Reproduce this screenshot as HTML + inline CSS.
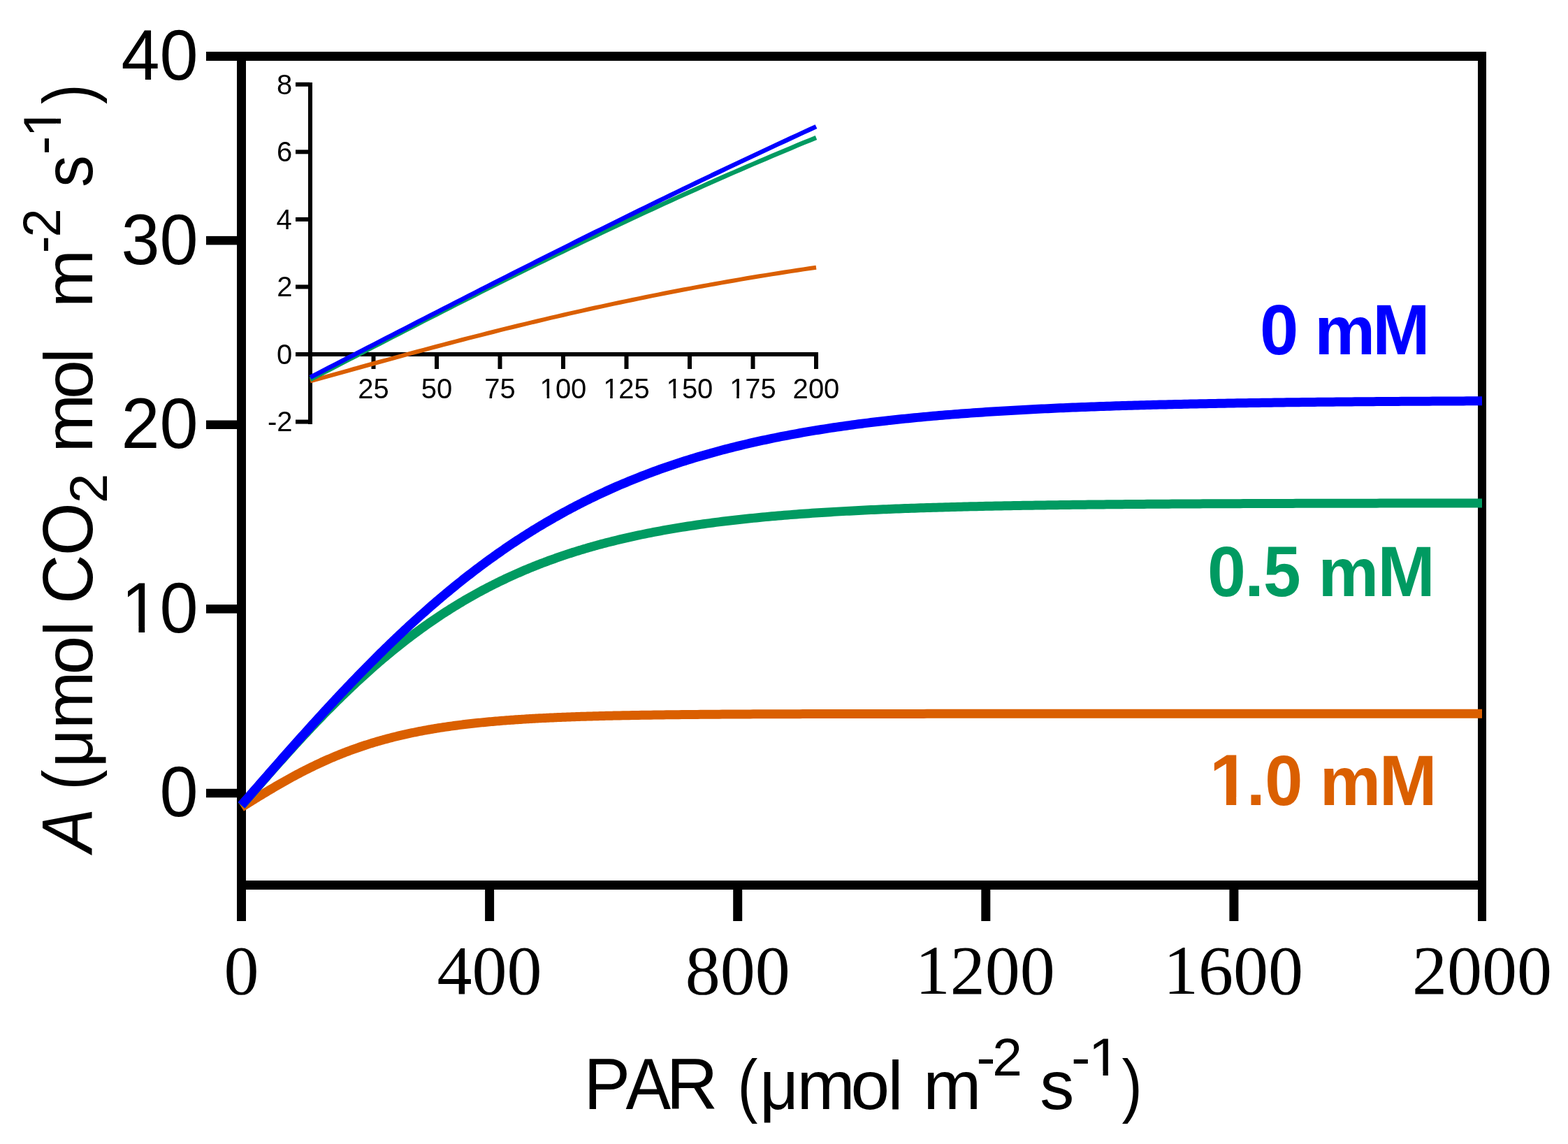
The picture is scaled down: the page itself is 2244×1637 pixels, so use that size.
<!DOCTYPE html>
<html><head><meta charset="utf-8"><title>Light response curves</title><style>
html,body{margin:0;padding:0;background:#fff;overflow:hidden;}
svg{display:block;}
text{white-space:pre;}
</style></head><body>
<svg width="2244" height="1637" viewBox="0 0 2244 1637">
<rect width="100%" height="100%" fill="#fff"/>
<g fill="#000">
<rect x="295" y="74" width="1832" height="13"/>
<rect x="339" y="1260" width="1788" height="13"/>
<rect x="339" y="74" width="13" height="1244"/>
<rect x="2115" y="74" width="12" height="1244"/>
<rect x="295" y="337.88" width="50" height="12.5"/>
<rect x="295" y="601.50" width="50" height="12.5"/>
<rect x="295" y="865.12" width="50" height="12.5"/>
<rect x="295" y="1128.75" width="50" height="12.5"/>
<rect x="694.10" y="1265" width="13" height="53"/>
<rect x="1049.20" y="1265" width="13" height="53"/>
<rect x="1404.30" y="1265" width="13" height="53"/>
<rect x="1759.40" y="1265" width="13" height="53"/>
</g>
<g fill="#000">
<rect x="441" y="118" width="6" height="489"/>
<rect x="423" y="504" width="748" height="6"/>
<rect x="423" y="117.80" width="20" height="6"/>
<rect x="423" y="214.35" width="20" height="6"/>
<rect x="423" y="310.90" width="20" height="6"/>
<rect x="423" y="407.45" width="20" height="6"/>
<rect x="423" y="600.55" width="20" height="6"/>
<rect x="531.50" y="505" width="6" height="23"/>
<rect x="622.00" y="505" width="6" height="23"/>
<rect x="712.50" y="505" width="6" height="23"/>
<rect x="803.00" y="505" width="6" height="23"/>
<rect x="893.50" y="505" width="6" height="23"/>
<rect x="984.00" y="505" width="6" height="23"/>
<rect x="1074.50" y="505" width="6" height="23"/>
<rect x="1165.00" y="505" width="6" height="23"/>
</g>
<path d="M345.50,1155.17 L347.72,1153.79 L349.94,1152.40 L352.16,1151.02 L354.38,1149.64 L356.60,1148.26 L358.82,1146.89 L361.04,1145.51 L363.25,1144.14 L365.47,1142.78 L367.69,1141.41 L369.91,1140.05 L372.13,1138.70 L374.35,1137.35 L376.57,1136.00 L378.79,1134.66 L381.01,1133.32 L383.23,1131.99 L385.45,1130.67 L387.67,1129.35 L389.89,1128.04 L392.11,1126.73 L394.33,1125.43 L396.55,1124.14 L398.76,1122.86 L400.98,1121.58 L403.20,1120.31 L405.42,1119.05 L407.64,1117.80 L409.86,1116.55 L412.08,1115.32 L414.30,1114.09 L416.52,1112.87 L418.74,1111.66 L420.96,1110.46 L423.18,1109.27 L425.40,1108.09 L427.62,1106.92 L429.84,1105.75 L432.06,1104.60 L434.27,1103.46 L436.49,1102.32 L438.71,1101.20 L440.93,1100.09 L443.15,1098.98 L445.37,1097.89 L447.59,1096.81 L449.81,1095.74 L452.03,1094.68 L454.25,1093.62 L456.47,1092.58 L458.69,1091.55 L460.91,1090.53 L463.13,1089.53 L465.35,1088.53 L467.57,1087.54 L469.78,1086.56 L472.00,1085.60 L474.22,1084.64 L476.44,1083.70 L478.66,1082.76 L480.88,1081.84 L483.10,1080.93 L485.32,1080.03 L487.54,1079.13 L489.76,1078.25 L491.98,1077.38 L494.20,1076.52 L496.42,1075.68 L498.64,1074.84 L500.86,1074.01 L503.08,1073.19 L505.29,1072.38 L507.51,1071.59 L509.73,1070.80 L511.95,1070.02 L514.17,1069.26 L516.39,1068.50 L518.61,1067.75 L520.83,1067.02 L523.05,1066.29 L525.27,1065.58 L527.49,1064.87 L529.71,1064.17 L531.93,1063.48 L534.15,1062.81 L536.37,1062.14 L538.59,1061.48 L540.81,1060.83 L543.02,1060.19 L545.24,1059.55 L547.46,1058.93 L549.68,1058.32 L551.90,1057.71 L554.12,1057.12 L556.34,1056.53 L558.56,1055.95 L560.78,1055.38 L563.00,1054.82 L565.22,1054.27 L567.44,1053.72 L569.66,1053.18 L571.88,1052.65 L574.10,1052.13 L576.32,1051.62 L578.53,1051.11 L580.75,1050.62 L582.97,1050.13 L585.19,1049.64 L587.41,1049.17 L589.63,1048.70 L591.85,1048.24 L594.07,1047.79 L596.29,1047.34 L598.51,1046.90 L600.73,1046.47 L602.95,1046.04 L605.17,1045.63 L607.39,1045.21 L609.61,1044.81 L611.83,1044.41 L614.04,1044.02 L616.26,1043.63 L618.48,1043.25 L620.70,1042.88 L622.92,1042.51 L625.14,1042.15 L627.36,1041.79 L629.58,1041.44 L631.80,1041.09 L634.02,1040.76 L636.24,1040.42 L638.46,1040.09 L640.68,1039.77 L642.90,1039.45 L645.12,1039.14 L647.34,1038.83 L649.55,1038.53 L651.77,1038.24 L653.99,1037.94 L656.21,1037.66 L658.43,1037.37 L660.65,1037.10 L662.87,1036.82 L665.09,1036.56 L667.31,1036.29 L669.53,1036.03 L671.75,1035.78 L673.97,1035.53 L676.19,1035.28 L678.41,1035.04 L680.63,1034.80 L682.85,1034.56 L685.06,1034.33 L687.28,1034.11 L689.50,1033.88 L691.72,1033.67 L693.94,1033.45 L696.16,1033.24 L698.38,1033.03 L700.60,1032.83 L702.82,1032.63 L705.04,1032.43 L707.26,1032.24 L709.48,1032.04 L711.70,1031.86 L713.92,1031.67 L716.14,1031.49 L718.36,1031.31 L720.57,1031.14 L722.79,1030.97 L725.01,1030.80 L727.23,1030.63 L729.45,1030.47 L731.67,1030.31 L733.89,1030.15 L736.11,1030.00 L738.33,1029.85 L740.55,1029.70 L742.77,1029.55 L744.99,1029.40 L747.21,1029.26 L749.43,1029.12 L751.65,1028.99 L753.87,1028.85 L756.08,1028.72 L758.30,1028.59 L760.52,1028.46 L762.74,1028.34 L764.96,1028.21 L767.18,1028.09 L769.40,1027.97 L771.62,1027.86 L773.84,1027.74 L776.06,1027.63 L778.28,1027.52 L780.50,1027.41 L782.72,1027.30 L784.94,1027.20 L787.16,1027.09 L789.38,1026.99 L791.59,1026.89 L793.81,1026.79 L796.03,1026.70 L798.25,1026.60 L800.47,1026.51 L802.69,1026.42 L804.91,1026.33 L807.13,1026.24 L809.35,1026.15 L811.57,1026.07 L813.79,1025.99 L816.01,1025.90 L818.23,1025.82 L820.45,1025.74 L822.67,1025.67 L824.88,1025.59 L827.10,1025.51 L829.32,1025.44 L831.54,1025.37 L833.76,1025.30 L835.98,1025.23 L838.20,1025.16 L840.42,1025.09 L842.64,1025.02 L844.86,1024.96 L847.08,1024.89 L849.30,1024.83 L851.52,1024.77 L853.74,1024.71 L855.96,1024.65 L858.18,1024.59 L860.39,1024.53 L862.61,1024.48 L864.83,1024.42 L867.05,1024.36 L869.27,1024.31 L871.49,1024.26 L873.71,1024.21 L875.93,1024.16 L878.15,1024.11 L882.59,1024.01 L887.03,1023.91 L891.47,1023.82 L895.90,1023.74 L900.34,1023.65 L904.78,1023.57 L909.22,1023.49 L913.66,1023.41 L918.10,1023.34 L922.54,1023.27 L926.98,1023.20 L931.41,1023.14 L935.85,1023.07 L940.29,1023.01 L944.73,1022.95 L949.17,1022.89 L953.61,1022.84 L958.05,1022.79 L962.49,1022.73 L966.92,1022.68 L971.36,1022.64 L975.80,1022.59 L980.24,1022.55 L984.68,1022.50 L989.12,1022.46 L993.56,1022.42 L998.00,1022.38 L1002.43,1022.34 L1006.87,1022.31 L1011.31,1022.27 L1015.75,1022.24 L1020.19,1022.21 L1024.63,1022.18 L1029.07,1022.15 L1033.51,1022.12 L1037.95,1022.09 L1042.38,1022.06 L1046.82,1022.03 L1051.26,1022.01 L1055.70,1021.98 L1060.14,1021.96 L1064.58,1021.94 L1069.02,1021.91 L1073.45,1021.89 L1077.89,1021.87 L1082.33,1021.85 L1086.77,1021.83 L1091.21,1021.82 L1095.65,1021.80 L1100.09,1021.78 L1104.53,1021.76 L1108.97,1021.75 L1113.40,1021.73 L1117.84,1021.72 L1122.28,1021.70 L1126.72,1021.69 L1131.16,1021.67 L1135.60,1021.66 L1140.04,1021.65 L1144.47,1021.64 L1148.91,1021.62 L1153.35,1021.61 L1157.79,1021.60 L1162.23,1021.59 L1166.67,1021.58 L1171.11,1021.57 L1175.55,1021.56 L1179.99,1021.55 L1184.42,1021.54 L1188.86,1021.53 L1193.30,1021.53 L1197.74,1021.52 L1202.18,1021.51 L1206.62,1021.50 L1211.06,1021.50 L1215.49,1021.49 L1219.93,1021.48 L1224.37,1021.48 L1228.81,1021.47 L1233.25,1021.46 L1237.69,1021.46 L1242.13,1021.45 L1246.57,1021.45 L1251.01,1021.44 L1255.44,1021.44 L1259.88,1021.43 L1264.32,1021.43 L1268.76,1021.42 L1273.20,1021.42 L1277.64,1021.41 L1282.08,1021.41 L1286.51,1021.40 L1290.95,1021.40 L1295.39,1021.40 L1299.83,1021.39 L1304.27,1021.39 L1308.71,1021.39 L1313.15,1021.38 L1317.59,1021.38 L1322.03,1021.38 L1326.46,1021.37 L1330.90,1021.37 L1335.34,1021.37 L1339.78,1021.36 L1344.22,1021.36 L1348.66,1021.36 L1353.10,1021.36 L1357.53,1021.36 L1361.97,1021.35 L1366.41,1021.35 L1370.85,1021.35 L1375.29,1021.35 L1379.73,1021.34 L1384.17,1021.34 L1388.61,1021.34 L1393.05,1021.34 L1397.48,1021.34 L1401.92,1021.34 L1406.36,1021.33 L1410.80,1021.33 L1415.24,1021.33 L1419.68,1021.33 L1424.12,1021.33 L1428.56,1021.33 L1432.99,1021.33 L1437.43,1021.32 L1441.87,1021.32 L1446.31,1021.32 L1450.75,1021.32 L1455.19,1021.32 L1459.63,1021.32 L1464.07,1021.32 L1468.50,1021.32 L1472.94,1021.32 L1477.38,1021.31 L1481.82,1021.31 L1486.26,1021.31 L1490.70,1021.31 L1495.14,1021.31 L1499.58,1021.31 L1504.01,1021.31 L1508.45,1021.31 L1512.89,1021.31 L1517.33,1021.31 L1521.77,1021.31 L1526.21,1021.31 L1530.65,1021.31 L1535.09,1021.30 L1539.52,1021.30 L1543.96,1021.30 L1548.40,1021.30 L1552.84,1021.30 L1557.28,1021.30 L1561.72,1021.30 L1566.16,1021.30 L1570.60,1021.30 L1575.03,1021.30 L1579.47,1021.30 L1583.91,1021.30 L1588.35,1021.30 L1592.79,1021.30 L1597.23,1021.30 L1601.67,1021.30 L1606.11,1021.30 L1610.54,1021.30 L1614.98,1021.30 L1619.42,1021.30 L1623.86,1021.30 L1628.30,1021.30 L1632.74,1021.30 L1637.18,1021.30 L1641.62,1021.30 L1646.05,1021.29 L1650.49,1021.29 L1654.93,1021.29 L1659.37,1021.29 L1663.81,1021.29 L1668.25,1021.29 L1672.69,1021.29 L1677.12,1021.29 L1681.56,1021.29 L1686.00,1021.29 L1690.44,1021.29 L1694.88,1021.29 L1699.32,1021.29 L1703.76,1021.29 L1708.20,1021.29 L1712.63,1021.29 L1717.07,1021.29 L1721.51,1021.29 L1725.95,1021.29 L1730.39,1021.29 L1734.83,1021.29 L1739.27,1021.29 L1743.71,1021.29 L1748.14,1021.29 L1752.58,1021.29 L1757.02,1021.29 L1761.46,1021.29 L1765.90,1021.29 L1770.34,1021.29 L1774.78,1021.29 L1779.22,1021.29 L1783.65,1021.29 L1788.09,1021.29 L1792.53,1021.29 L1796.97,1021.29 L1801.41,1021.29 L1805.85,1021.29 L1810.29,1021.29 L1814.73,1021.29 L1819.16,1021.29 L1823.60,1021.29 L1828.04,1021.29 L1832.48,1021.29 L1836.92,1021.29 L1841.36,1021.29 L1845.80,1021.29 L1850.24,1021.29 L1854.67,1021.29 L1859.11,1021.29 L1863.55,1021.29 L1867.99,1021.29 L1872.43,1021.29 L1876.87,1021.29 L1881.31,1021.29 L1885.75,1021.29 L1890.18,1021.29 L1894.62,1021.29 L1899.06,1021.29 L1903.50,1021.29 L1907.94,1021.29 L1912.38,1021.29 L1916.82,1021.29 L1921.26,1021.29 L1925.69,1021.29 L1930.13,1021.29 L1934.57,1021.29 L1939.01,1021.29 L1943.45,1021.29 L1947.89,1021.29 L1952.33,1021.29 L1956.77,1021.29 L1961.20,1021.29 L1965.64,1021.29 L1970.08,1021.29 L1974.52,1021.29 L1978.96,1021.29 L1983.40,1021.29 L1987.84,1021.29 L1992.28,1021.29 L1996.71,1021.29 L2001.15,1021.29 L2005.59,1021.29 L2010.03,1021.29 L2014.47,1021.29 L2018.91,1021.29 L2023.35,1021.29 L2027.79,1021.29 L2032.22,1021.29 L2036.66,1021.29 L2041.10,1021.29 L2045.54,1021.29 L2049.98,1021.29 L2054.42,1021.29 L2058.86,1021.29 L2063.30,1021.29 L2067.73,1021.29 L2072.17,1021.29 L2076.61,1021.29 L2081.05,1021.29 L2085.49,1021.29 L2089.93,1021.29 L2094.37,1021.29 L2098.81,1021.29 L2103.24,1021.29 L2107.68,1021.29 L2112.12,1021.29 L2116.56,1021.29 L2121.00,1021.29" fill="none" stroke="#DA5F00" stroke-width="13" stroke-linejoin="round"/>
<path d="M345.50,1152.80 L347.72,1150.25 L349.94,1147.69 L352.16,1145.14 L354.38,1142.59 L356.60,1140.03 L358.82,1137.48 L361.04,1134.93 L363.25,1132.38 L365.47,1129.84 L367.69,1127.29 L369.91,1124.75 L372.13,1122.22 L374.35,1119.68 L376.57,1117.15 L378.79,1114.62 L381.01,1112.09 L383.23,1109.57 L385.45,1107.05 L387.67,1104.54 L389.89,1102.03 L392.11,1099.52 L394.33,1097.02 L396.55,1094.52 L398.76,1092.03 L400.98,1089.54 L403.20,1087.06 L405.42,1084.59 L407.64,1082.12 L409.86,1079.65 L412.08,1077.19 L414.30,1074.74 L416.52,1072.29 L418.74,1069.85 L420.96,1067.42 L423.18,1064.99 L425.40,1062.57 L427.62,1060.16 L429.84,1057.75 L432.06,1055.35 L434.27,1052.96 L436.49,1050.58 L438.71,1048.20 L440.93,1045.83 L443.15,1043.47 L445.37,1041.12 L447.59,1038.77 L449.81,1036.44 L452.03,1034.11 L454.25,1031.79 L456.47,1029.48 L458.69,1027.17 L460.91,1024.88 L463.13,1022.59 L465.35,1020.32 L467.57,1018.05 L469.78,1015.79 L472.00,1013.55 L474.22,1011.31 L476.44,1009.08 L478.66,1006.86 L480.88,1004.65 L483.10,1002.45 L485.32,1000.26 L487.54,998.08 L489.76,995.91 L491.98,993.75 L494.20,991.59 L496.42,989.45 L498.64,987.32 L500.86,985.20 L503.08,983.10 L505.29,981.00 L507.51,978.91 L509.73,976.83 L511.95,974.76 L514.17,972.71 L516.39,970.66 L518.61,968.63 L520.83,966.60 L523.05,964.59 L525.27,962.59 L527.49,960.59 L529.71,958.61 L531.93,956.64 L534.15,954.69 L536.37,952.74 L538.59,950.80 L540.81,948.88 L543.02,946.96 L545.24,945.06 L547.46,943.17 L549.68,941.29 L551.90,939.42 L554.12,937.56 L556.34,935.71 L558.56,933.88 L560.78,932.05 L563.00,930.24 L565.22,928.44 L567.44,926.65 L569.66,924.87 L571.88,923.10 L574.10,921.35 L576.32,919.60 L578.53,917.87 L580.75,916.15 L582.97,914.44 L585.19,912.74 L587.41,911.05 L589.63,909.37 L591.85,907.71 L594.07,906.06 L596.29,904.41 L598.51,902.78 L600.73,901.16 L602.95,899.55 L605.17,897.95 L607.39,896.37 L609.61,894.79 L611.83,893.23 L614.04,891.68 L616.26,890.13 L618.48,888.60 L620.70,887.08 L622.92,885.57 L625.14,884.08 L627.36,882.59 L629.58,881.11 L631.80,879.65 L634.02,878.19 L636.24,876.75 L638.46,875.32 L640.68,873.90 L642.90,872.49 L645.12,871.09 L647.34,869.70 L649.55,868.32 L651.77,866.95 L653.99,865.59 L656.21,864.24 L658.43,862.91 L660.65,861.58 L662.87,860.27 L665.09,858.96 L667.31,857.67 L669.53,856.38 L671.75,855.11 L673.97,853.84 L676.19,852.59 L678.41,851.34 L680.63,850.11 L682.85,848.88 L685.06,847.67 L687.28,846.47 L689.50,845.27 L691.72,844.09 L693.94,842.91 L696.16,841.75 L698.38,840.59 L700.60,839.44 L702.82,838.31 L705.04,837.18 L707.26,836.06 L709.48,834.95 L711.70,833.85 L713.92,832.76 L716.14,831.68 L718.36,830.61 L720.57,829.55 L722.79,828.50 L725.01,827.45 L727.23,826.42 L729.45,825.39 L731.67,824.37 L733.89,823.37 L736.11,822.37 L738.33,821.38 L740.55,820.39 L742.77,819.42 L744.99,818.45 L747.21,817.50 L749.43,816.55 L751.65,815.61 L753.87,814.68 L756.08,813.75 L758.30,812.84 L760.52,811.93 L762.74,811.03 L764.96,810.14 L767.18,809.26 L769.40,808.38 L771.62,807.51 L773.84,806.65 L776.06,805.80 L778.28,804.96 L780.50,804.12 L782.72,803.29 L784.94,802.47 L787.16,801.66 L789.38,800.85 L791.59,800.05 L793.81,799.26 L796.03,798.47 L798.25,797.70 L800.47,796.93 L802.69,796.16 L804.91,795.41 L807.13,794.66 L809.35,793.92 L811.57,793.18 L813.79,792.45 L816.01,791.73 L818.23,791.02 L820.45,790.31 L822.67,789.61 L824.88,788.91 L827.10,788.22 L829.32,787.54 L831.54,786.87 L833.76,786.20 L835.98,785.53 L838.20,784.88 L840.42,784.23 L842.64,783.58 L844.86,782.94 L847.08,782.31 L849.30,781.68 L851.52,781.06 L853.74,780.45 L855.96,779.84 L858.18,779.24 L860.39,778.64 L862.61,778.05 L864.83,777.47 L867.05,776.89 L869.27,776.31 L871.49,775.74 L873.71,775.18 L875.93,774.62 L878.15,774.07 L882.59,772.98 L887.03,771.91 L891.47,770.86 L895.90,769.84 L900.34,768.83 L904.78,767.84 L909.22,766.87 L913.66,765.92 L918.10,764.99 L922.54,764.08 L926.98,763.19 L931.41,762.31 L935.85,761.45 L940.29,760.60 L944.73,759.78 L949.17,758.97 L953.61,758.17 L958.05,757.39 L962.49,756.63 L966.92,755.88 L971.36,755.15 L975.80,754.43 L980.24,753.73 L984.68,753.04 L989.12,752.36 L993.56,751.70 L998.00,751.05 L1002.43,750.41 L1006.87,749.79 L1011.31,749.18 L1015.75,748.58 L1020.19,747.99 L1024.63,747.41 L1029.07,746.85 L1033.51,746.30 L1037.95,745.76 L1042.38,745.23 L1046.82,744.71 L1051.26,744.20 L1055.70,743.70 L1060.14,743.21 L1064.58,742.73 L1069.02,742.26 L1073.45,741.80 L1077.89,741.35 L1082.33,740.91 L1086.77,740.48 L1091.21,740.06 L1095.65,739.64 L1100.09,739.23 L1104.53,738.84 L1108.97,738.45 L1113.40,738.06 L1117.84,737.69 L1122.28,737.32 L1126.72,736.96 L1131.16,736.61 L1135.60,736.27 L1140.04,735.93 L1144.47,735.60 L1148.91,735.28 L1153.35,734.96 L1157.79,734.65 L1162.23,734.34 L1166.67,734.05 L1171.11,733.75 L1175.55,733.47 L1179.99,733.19 L1184.42,732.91 L1188.86,732.64 L1193.30,732.38 L1197.74,732.12 L1202.18,731.87 L1206.62,731.62 L1211.06,731.38 L1215.49,731.14 L1219.93,730.91 L1224.37,730.68 L1228.81,730.46 L1233.25,730.24 L1237.69,730.03 L1242.13,729.82 L1246.57,729.61 L1251.01,729.41 L1255.44,729.21 L1259.88,729.02 L1264.32,728.83 L1268.76,728.65 L1273.20,728.46 L1277.64,728.29 L1282.08,728.11 L1286.51,727.94 L1290.95,727.77 L1295.39,727.61 L1299.83,727.45 L1304.27,727.29 L1308.71,727.14 L1313.15,726.99 L1317.59,726.84 L1322.03,726.70 L1326.46,726.56 L1330.90,726.42 L1335.34,726.28 L1339.78,726.15 L1344.22,726.02 L1348.66,725.89 L1353.10,725.77 L1357.53,725.65 L1361.97,725.53 L1366.41,725.41 L1370.85,725.29 L1375.29,725.18 L1379.73,725.07 L1384.17,724.96 L1388.61,724.86 L1393.05,724.75 L1397.48,724.65 L1401.92,724.55 L1406.36,724.46 L1410.80,724.36 L1415.24,724.27 L1419.68,724.18 L1424.12,724.09 L1428.56,724.00 L1432.99,723.91 L1437.43,723.83 L1441.87,723.75 L1446.31,723.66 L1450.75,723.59 L1455.19,723.51 L1459.63,723.43 L1464.07,723.36 L1468.50,723.28 L1472.94,723.21 L1477.38,723.14 L1481.82,723.08 L1486.26,723.01 L1490.70,722.94 L1495.14,722.88 L1499.58,722.82 L1504.01,722.75 L1508.45,722.69 L1512.89,722.63 L1517.33,722.58 L1521.77,722.52 L1526.21,722.46 L1530.65,722.41 L1535.09,722.36 L1539.52,722.30 L1543.96,722.25 L1548.40,722.20 L1552.84,722.15 L1557.28,722.10 L1561.72,722.06 L1566.16,722.01 L1570.60,721.97 L1575.03,721.92 L1579.47,721.88 L1583.91,721.84 L1588.35,721.79 L1592.79,721.75 L1597.23,721.71 L1601.67,721.67 L1606.11,721.64 L1610.54,721.60 L1614.98,721.56 L1619.42,721.52 L1623.86,721.49 L1628.30,721.45 L1632.74,721.42 L1637.18,721.39 L1641.62,721.36 L1646.05,721.32 L1650.49,721.29 L1654.93,721.26 L1659.37,721.23 L1663.81,721.20 L1668.25,721.17 L1672.69,721.14 L1677.12,721.12 L1681.56,721.09 L1686.00,721.06 L1690.44,721.04 L1694.88,721.01 L1699.32,720.99 L1703.76,720.96 L1708.20,720.94 L1712.63,720.92 L1717.07,720.89 L1721.51,720.87 L1725.95,720.85 L1730.39,720.83 L1734.83,720.81 L1739.27,720.78 L1743.71,720.76 L1748.14,720.74 L1752.58,720.72 L1757.02,720.71 L1761.46,720.69 L1765.90,720.67 L1770.34,720.65 L1774.78,720.63 L1779.22,720.62 L1783.65,720.60 L1788.09,720.58 L1792.53,720.57 L1796.97,720.55 L1801.41,720.53 L1805.85,720.52 L1810.29,720.50 L1814.73,720.49 L1819.16,720.48 L1823.60,720.46 L1828.04,720.45 L1832.48,720.43 L1836.92,720.42 L1841.36,720.41 L1845.80,720.40 L1850.24,720.38 L1854.67,720.37 L1859.11,720.36 L1863.55,720.35 L1867.99,720.34 L1872.43,720.32 L1876.87,720.31 L1881.31,720.30 L1885.75,720.29 L1890.18,720.28 L1894.62,720.27 L1899.06,720.26 L1903.50,720.25 L1907.94,720.24 L1912.38,720.23 L1916.82,720.22 L1921.26,720.22 L1925.69,720.21 L1930.13,720.20 L1934.57,720.19 L1939.01,720.18 L1943.45,720.17 L1947.89,720.16 L1952.33,720.16 L1956.77,720.15 L1961.20,720.14 L1965.64,720.13 L1970.08,720.13 L1974.52,720.12 L1978.96,720.11 L1983.40,720.11 L1987.84,720.10 L1992.28,720.09 L1996.71,720.09 L2001.15,720.08 L2005.59,720.07 L2010.03,720.07 L2014.47,720.06 L2018.91,720.06 L2023.35,720.05 L2027.79,720.05 L2032.22,720.04 L2036.66,720.04 L2041.10,720.03 L2045.54,720.03 L2049.98,720.02 L2054.42,720.02 L2058.86,720.01 L2063.30,720.01 L2067.73,720.00 L2072.17,720.00 L2076.61,719.99 L2081.05,719.99 L2085.49,719.98 L2089.93,719.98 L2094.37,719.98 L2098.81,719.97 L2103.24,719.97 L2107.68,719.96 L2112.12,719.96 L2116.56,719.96 L2121.00,719.95" fill="none" stroke="#009A61" stroke-width="13" stroke-linejoin="round"/>
<path d="M345.50,1152.19 L347.72,1149.64 L349.94,1147.09 L352.16,1144.54 L354.38,1141.99 L356.60,1139.44 L358.82,1136.89 L361.04,1134.34 L363.25,1131.79 L365.47,1129.25 L367.69,1126.70 L369.91,1124.15 L372.13,1121.61 L374.35,1119.07 L376.57,1116.53 L378.79,1113.99 L381.01,1111.45 L383.23,1108.91 L385.45,1106.37 L387.67,1103.84 L389.89,1101.31 L392.11,1098.78 L394.33,1096.25 L396.55,1093.73 L398.76,1091.20 L400.98,1088.68 L403.20,1086.16 L405.42,1083.65 L407.64,1081.13 L409.86,1078.62 L412.08,1076.12 L414.30,1073.61 L416.52,1071.11 L418.74,1068.61 L420.96,1066.11 L423.18,1063.62 L425.40,1061.13 L427.62,1058.65 L429.84,1056.17 L432.06,1053.69 L434.27,1051.21 L436.49,1048.74 L438.71,1046.28 L440.93,1043.81 L443.15,1041.36 L445.37,1038.90 L447.59,1036.45 L449.81,1034.00 L452.03,1031.56 L454.25,1029.13 L456.47,1026.69 L458.69,1024.27 L460.91,1021.84 L463.13,1019.42 L465.35,1017.01 L467.57,1014.60 L469.78,1012.20 L472.00,1009.80 L474.22,1007.41 L476.44,1005.02 L478.66,1002.64 L480.88,1000.26 L483.10,997.89 L485.32,995.52 L487.54,993.16 L489.76,990.81 L491.98,988.46 L494.20,986.12 L496.42,983.78 L498.64,981.45 L500.86,979.13 L503.08,976.81 L505.29,974.50 L507.51,972.19 L509.73,969.89 L511.95,967.60 L514.17,965.31 L516.39,963.03 L518.61,960.76 L520.83,958.49 L523.05,956.23 L525.27,953.97 L527.49,951.73 L529.71,949.49 L531.93,947.25 L534.15,945.03 L536.37,942.81 L538.59,940.59 L540.81,938.39 L543.02,936.19 L545.24,934.00 L547.46,931.82 L549.68,929.64 L551.90,927.47 L554.12,925.31 L556.34,923.16 L558.56,921.01 L560.78,918.87 L563.00,916.74 L565.22,914.62 L567.44,912.50 L569.66,910.39 L571.88,908.29 L574.10,906.20 L576.32,904.12 L578.53,902.04 L580.75,899.97 L582.97,897.91 L585.19,895.85 L587.41,893.81 L589.63,891.77 L591.85,889.74 L594.07,887.72 L596.29,885.71 L598.51,883.70 L600.73,881.71 L602.95,879.72 L605.17,877.74 L607.39,875.77 L609.61,873.80 L611.83,871.85 L614.04,869.90 L616.26,867.96 L618.48,866.03 L620.70,864.11 L622.92,862.20 L625.14,860.29 L627.36,858.40 L629.58,856.51 L631.80,854.63 L634.02,852.76 L636.24,850.89 L638.46,849.04 L640.68,847.19 L642.90,845.36 L645.12,843.53 L647.34,841.71 L649.55,839.90 L651.77,838.09 L653.99,836.30 L656.21,834.51 L658.43,832.74 L660.65,830.97 L662.87,829.21 L665.09,827.46 L667.31,825.72 L669.53,823.98 L671.75,822.26 L673.97,820.54 L676.19,818.83 L678.41,817.13 L680.63,815.44 L682.85,813.76 L685.06,812.09 L687.28,810.42 L689.50,808.77 L691.72,807.12 L693.94,805.48 L696.16,803.85 L698.38,802.23 L700.60,800.61 L702.82,799.01 L705.04,797.41 L707.26,795.83 L709.48,794.25 L711.70,792.68 L713.92,791.11 L716.14,789.56 L718.36,788.02 L720.57,786.48 L722.79,784.95 L725.01,783.43 L727.23,781.92 L729.45,780.42 L731.67,778.93 L733.89,777.44 L736.11,775.97 L738.33,774.50 L740.55,773.04 L742.77,771.59 L744.99,770.14 L747.21,768.71 L749.43,767.28 L751.65,765.86 L753.87,764.45 L756.08,763.05 L758.30,761.66 L760.52,760.27 L762.74,758.90 L764.96,757.53 L767.18,756.17 L769.40,754.82 L771.62,753.47 L773.84,752.14 L776.06,750.81 L778.28,749.49 L780.50,748.18 L782.72,746.87 L784.94,745.58 L787.16,744.29 L789.38,743.01 L791.59,741.74 L793.81,740.47 L796.03,739.22 L798.25,737.97 L800.47,736.73 L802.69,735.49 L804.91,734.27 L807.13,733.05 L809.35,731.84 L811.57,730.64 L813.79,729.45 L816.01,728.26 L818.23,727.08 L820.45,725.91 L822.67,724.75 L824.88,723.59 L827.10,722.44 L829.32,721.30 L831.54,720.17 L833.76,719.04 L835.98,717.92 L838.20,716.81 L840.42,715.70 L842.64,714.61 L844.86,713.52 L847.08,712.44 L849.30,711.36 L851.52,710.29 L853.74,709.23 L855.96,708.18 L858.18,707.13 L860.39,706.09 L862.61,705.06 L864.83,704.03 L867.05,703.01 L869.27,702.00 L871.49,701.00 L873.71,700.00 L875.93,699.01 L878.15,698.02 L882.59,696.07 L887.03,694.15 L891.47,692.25 L895.90,690.39 L900.34,688.54 L904.78,686.72 L909.22,684.93 L913.66,683.17 L918.10,681.42 L922.54,679.71 L926.98,678.01 L931.41,676.35 L935.85,674.70 L940.29,673.08 L944.73,671.48 L949.17,669.91 L953.61,668.36 L958.05,666.83 L962.49,665.32 L966.92,663.84 L971.36,662.37 L975.80,660.93 L980.24,659.51 L984.68,658.11 L989.12,656.74 L993.56,655.38 L998.00,654.04 L1002.43,652.72 L1006.87,651.43 L1011.31,650.15 L1015.75,648.89 L1020.19,647.65 L1024.63,646.43 L1029.07,645.23 L1033.51,644.05 L1037.95,642.88 L1042.38,641.73 L1046.82,640.60 L1051.26,639.49 L1055.70,638.39 L1060.14,637.32 L1064.58,636.25 L1069.02,635.21 L1073.45,634.18 L1077.89,633.17 L1082.33,632.17 L1086.77,631.19 L1091.21,630.22 L1095.65,629.27 L1100.09,628.33 L1104.53,627.41 L1108.97,626.50 L1113.40,625.61 L1117.84,624.73 L1122.28,623.87 L1126.72,623.02 L1131.16,622.18 L1135.60,621.36 L1140.04,620.55 L1144.47,619.75 L1148.91,618.96 L1153.35,618.19 L1157.79,617.43 L1162.23,616.68 L1166.67,615.95 L1171.11,615.22 L1175.55,614.51 L1179.99,613.81 L1184.42,613.12 L1188.86,612.44 L1193.30,611.78 L1197.74,611.12 L1202.18,610.47 L1206.62,609.84 L1211.06,609.21 L1215.49,608.60 L1219.93,607.99 L1224.37,607.40 L1228.81,606.81 L1233.25,606.24 L1237.69,605.67 L1242.13,605.12 L1246.57,604.57 L1251.01,604.03 L1255.44,603.50 L1259.88,602.98 L1264.32,602.47 L1268.76,601.96 L1273.20,601.47 L1277.64,600.98 L1282.08,600.50 L1286.51,600.03 L1290.95,599.57 L1295.39,599.11 L1299.83,598.66 L1304.27,598.22 L1308.71,597.79 L1313.15,597.36 L1317.59,596.94 L1322.03,596.53 L1326.46,596.13 L1330.90,595.73 L1335.34,595.33 L1339.78,594.95 L1344.22,594.57 L1348.66,594.20 L1353.10,593.83 L1357.53,593.47 L1361.97,593.12 L1366.41,592.77 L1370.85,592.43 L1375.29,592.09 L1379.73,591.76 L1384.17,591.43 L1388.61,591.11 L1393.05,590.80 L1397.48,590.49 L1401.92,590.19 L1406.36,589.89 L1410.80,589.59 L1415.24,589.31 L1419.68,589.02 L1424.12,588.74 L1428.56,588.47 L1432.99,588.20 L1437.43,587.93 L1441.87,587.67 L1446.31,587.42 L1450.75,587.16 L1455.19,586.92 L1459.63,586.67 L1464.07,586.43 L1468.50,586.20 L1472.94,585.97 L1477.38,585.74 L1481.82,585.52 L1486.26,585.30 L1490.70,585.08 L1495.14,584.87 L1499.58,584.66 L1504.01,584.45 L1508.45,584.25 L1512.89,584.05 L1517.33,583.86 L1521.77,583.67 L1526.21,583.48 L1530.65,583.30 L1535.09,583.11 L1539.52,582.93 L1543.96,582.76 L1548.40,582.59 L1552.84,582.42 L1557.28,582.25 L1561.72,582.09 L1566.16,581.92 L1570.60,581.77 L1575.03,581.61 L1579.47,581.46 L1583.91,581.31 L1588.35,581.16 L1592.79,581.01 L1597.23,580.87 L1601.67,580.73 L1606.11,580.59 L1610.54,580.46 L1614.98,580.32 L1619.42,580.19 L1623.86,580.06 L1628.30,579.94 L1632.74,579.81 L1637.18,579.69 L1641.62,579.57 L1646.05,579.45 L1650.49,579.34 L1654.93,579.22 L1659.37,579.11 L1663.81,579.00 L1668.25,578.89 L1672.69,578.79 L1677.12,578.68 L1681.56,578.58 L1686.00,578.48 L1690.44,578.38 L1694.88,578.28 L1699.32,578.18 L1703.76,578.09 L1708.20,578.00 L1712.63,577.91 L1717.07,577.82 L1721.51,577.73 L1725.95,577.64 L1730.39,577.56 L1734.83,577.47 L1739.27,577.39 L1743.71,577.31 L1748.14,577.23 L1752.58,577.16 L1757.02,577.08 L1761.46,577.00 L1765.90,576.93 L1770.34,576.86 L1774.78,576.79 L1779.22,576.72 L1783.65,576.65 L1788.09,576.58 L1792.53,576.51 L1796.97,576.45 L1801.41,576.38 L1805.85,576.32 L1810.29,576.26 L1814.73,576.20 L1819.16,576.14 L1823.60,576.08 L1828.04,576.02 L1832.48,575.96 L1836.92,575.91 L1841.36,575.85 L1845.80,575.80 L1850.24,575.75 L1854.67,575.69 L1859.11,575.64 L1863.55,575.59 L1867.99,575.54 L1872.43,575.49 L1876.87,575.45 L1881.31,575.40 L1885.75,575.35 L1890.18,575.31 L1894.62,575.26 L1899.06,575.22 L1903.50,575.18 L1907.94,575.13 L1912.38,575.09 L1916.82,575.05 L1921.26,575.01 L1925.69,574.97 L1930.13,574.93 L1934.57,574.89 L1939.01,574.86 L1943.45,574.82 L1947.89,574.78 L1952.33,574.75 L1956.77,574.71 L1961.20,574.68 L1965.64,574.65 L1970.08,574.61 L1974.52,574.58 L1978.96,574.55 L1983.40,574.52 L1987.84,574.49 L1992.28,574.46 L1996.71,574.43 L2001.15,574.40 L2005.59,574.37 L2010.03,574.34 L2014.47,574.31 L2018.91,574.28 L2023.35,574.26 L2027.79,574.23 L2032.22,574.20 L2036.66,574.18 L2041.10,574.15 L2045.54,574.13 L2049.98,574.11 L2054.42,574.08 L2058.86,574.06 L2063.30,574.04 L2067.73,574.01 L2072.17,573.99 L2076.61,573.97 L2081.05,573.95 L2085.49,573.93 L2089.93,573.91 L2094.37,573.89 L2098.81,573.87 L2103.24,573.85 L2107.68,573.83 L2112.12,573.81 L2116.56,573.79 L2121.00,573.77" fill="none" stroke="#0000FF" stroke-width="13" stroke-linejoin="round"/>
<path d="M444.00,545.44 L453.05,542.90 L462.10,540.37 L471.15,537.84 L480.20,535.31 L489.25,532.79 L498.30,530.27 L507.35,527.75 L516.40,525.24 L525.45,522.74 L534.50,520.24 L543.55,517.75 L552.60,515.27 L561.65,512.80 L570.70,510.33 L579.75,507.87 L588.80,505.43 L597.85,502.99 L606.90,500.57 L615.95,498.15 L625.00,495.75 L634.05,493.36 L643.10,490.98 L652.15,488.62 L661.20,486.26 L670.25,483.93 L679.30,481.60 L688.35,479.30 L697.40,477.00 L706.45,474.72 L715.50,472.46 L724.55,470.21 L733.60,467.98 L742.65,465.77 L751.70,463.57 L760.75,461.39 L769.80,459.22 L778.85,457.07 L787.90,454.95 L796.95,452.83 L806.00,450.74 L815.05,448.66 L824.10,446.61 L833.15,444.57 L842.20,442.55 L851.25,440.55 L860.30,438.57 L869.35,436.60 L878.40,434.66 L887.45,432.73 L896.50,430.83 L905.55,428.94 L914.60,427.08 L923.65,425.23 L932.70,423.40 L941.75,421.59 L950.80,419.80 L959.85,418.03 L968.90,416.28 L977.95,414.55 L987.00,412.84 L996.05,411.15 L1005.10,409.48 L1014.15,407.83 L1023.20,406.20 L1032.25,404.59 L1041.30,402.99 L1050.35,401.42 L1059.40,399.86 L1068.45,398.33 L1077.50,396.81 L1086.55,395.32 L1095.60,393.84 L1104.65,392.38 L1113.70,390.94 L1122.75,389.52 L1131.80,388.11 L1140.85,386.73 L1149.90,385.36 L1158.95,384.01 L1168.00,382.68" fill="none" stroke="#DA5F00" stroke-width="6"/>
<path d="M444.00,543.10 L453.05,538.40 L462.10,533.71 L471.15,529.01 L480.20,524.31 L489.25,519.62 L498.30,514.93 L507.35,510.24 L516.40,505.56 L525.45,500.88 L534.50,496.20 L543.55,491.53 L552.60,486.86 L561.65,482.20 L570.70,477.55 L579.75,472.89 L588.80,468.25 L597.85,463.61 L606.90,458.98 L615.95,454.36 L625.00,449.74 L634.05,445.14 L643.10,440.54 L652.15,435.95 L661.20,431.36 L670.25,426.79 L679.30,422.23 L688.35,417.68 L697.40,413.13 L706.45,408.60 L715.50,404.08 L724.55,399.57 L733.60,395.07 L742.65,390.58 L751.70,386.11 L760.75,381.64 L769.80,377.19 L778.85,372.75 L787.90,368.33 L796.95,363.92 L806.00,359.52 L815.05,355.13 L824.10,350.76 L833.15,346.41 L842.20,342.06 L851.25,337.74 L860.30,333.42 L869.35,329.13 L878.40,324.84 L887.45,320.58 L896.50,316.33 L905.55,312.09 L914.60,307.87 L923.65,303.67 L932.70,299.48 L941.75,295.31 L950.80,291.16 L959.85,287.03 L968.90,282.91 L977.95,278.81 L987.00,274.72 L996.05,270.66 L1005.10,266.61 L1014.15,262.58 L1023.20,258.57 L1032.25,254.57 L1041.30,250.60 L1050.35,246.64 L1059.40,242.70 L1068.45,238.78 L1077.50,234.88 L1086.55,231.00 L1095.60,227.14 L1104.65,223.30 L1113.70,219.47 L1122.75,215.67 L1131.80,211.88 L1140.85,208.12 L1149.90,204.37 L1158.95,200.65 L1168.00,196.94" fill="none" stroke="#009A61" stroke-width="6.5"/>
<path d="M444.00,539.98 L453.05,535.31 L462.10,530.64 L471.15,525.97 L480.20,521.30 L489.25,516.63 L498.30,511.96 L507.35,507.29 L516.40,502.63 L525.45,497.96 L534.50,493.30 L543.55,488.64 L552.60,483.98 L561.65,479.32 L570.70,474.67 L579.75,470.02 L588.80,465.37 L597.85,460.72 L606.90,456.08 L615.95,451.44 L625.00,446.81 L634.05,442.17 L643.10,437.54 L652.15,432.92 L661.20,428.30 L670.25,423.68 L679.30,419.07 L688.35,414.46 L697.40,409.86 L706.45,405.26 L715.50,400.67 L724.55,396.08 L733.60,391.50 L742.65,386.93 L751.70,382.36 L760.75,377.79 L769.80,373.24 L778.85,368.68 L787.90,364.14 L796.95,359.60 L806.00,355.07 L815.05,350.55 L824.10,346.03 L833.15,341.52 L842.20,337.02 L851.25,332.52 L860.30,328.04 L869.35,323.56 L878.40,319.09 L887.45,314.62 L896.50,310.17 L905.55,305.72 L914.60,301.29 L923.65,296.86 L932.70,292.44 L941.75,288.03 L950.80,283.63 L959.85,279.24 L968.90,274.85 L977.95,270.48 L987.00,266.12 L996.05,261.77 L1005.10,257.43 L1014.15,253.09 L1023.20,248.77 L1032.25,244.46 L1041.30,240.16 L1050.35,235.87 L1059.40,231.59 L1068.45,227.32 L1077.50,223.07 L1086.55,218.82 L1095.60,214.58 L1104.65,210.36 L1113.70,206.15 L1122.75,201.95 L1131.80,197.76 L1140.85,193.59 L1149.90,189.42 L1158.95,185.27 L1168.00,181.13" fill="none" stroke="#0000FF" stroke-width="6.5"/>
<g transform="translate(0,113.90) scale(1,1.0250)"><text style="font-family:'Liberation Sans',Arial,Helvetica,sans-serif" fill="#000"><tspan x="173.55" y="0.00" font-size="99.00">4</tspan><tspan x="228.61" y="0.00" font-size="99.00">0</tspan></text></g>
<g transform="translate(0,377.52) scale(1,1.0250)"><text style="font-family:'Liberation Sans',Arial,Helvetica,sans-serif" fill="#000"><tspan x="173.55" y="0.00" font-size="99.00">3</tspan><tspan x="228.61" y="0.00" font-size="99.00">0</tspan></text></g>
<g transform="translate(0,641.15) scale(1,1.0250)"><text style="font-family:'Liberation Sans',Arial,Helvetica,sans-serif" fill="#000"><tspan x="173.55" y="0.00" font-size="99.00">2</tspan><tspan x="228.61" y="0.00" font-size="99.00">0</tspan></text></g>
<g transform="translate(0,904.77) scale(1,1.0250)"><text style="font-family:'Liberation Sans',Arial,Helvetica,sans-serif" fill="#000"><tspan x="173.55" y="0.00" font-size="99.00">1</tspan><tspan x="228.61" y="0.00" font-size="99.00">0</tspan></text><g fill="#fff"><rect x="179.57" y="-8.10" width="18.87" height="10.10"/><rect x="207.19" y="-8.10" width="18.05" height="10.10"/></g></g>
<g transform="translate(0,1168.40) scale(1,1.0250)"><text style="font-family:'Liberation Sans',Arial,Helvetica,sans-serif" fill="#000"><tspan x="228.61" y="0.00" font-size="99.00">0</tspan></text></g>
<text x="345.5" y="1421.5" text-anchor="middle" style="font-family:'Liberation Serif','Times New Roman',Times,serif;font-size:100px">0</text>
<text x="700.6" y="1421.5" text-anchor="middle" style="font-family:'Liberation Serif','Times New Roman',Times,serif;font-size:100px">400</text>
<text x="1055.7" y="1421.5" text-anchor="middle" style="font-family:'Liberation Serif','Times New Roman',Times,serif;font-size:100px">800</text>
<text x="1409.8" y="1421.5" text-anchor="middle" style="font-family:'Liberation Serif','Times New Roman',Times,serif;font-size:100px">1200</text>
<text x="1764.9" y="1421.5" text-anchor="middle" style="font-family:'Liberation Serif','Times New Roman',Times,serif;font-size:100px">1600</text>
<text x="2121.0" y="1421.5" text-anchor="middle" style="font-family:'Liberation Serif','Times New Roman',Times,serif;font-size:100px">2000</text>
<g transform="translate(0,134.70) scale(1,1.0300)"><text style="font-family:'Liberation Sans',Arial,Helvetica,sans-serif" fill="#000"><tspan x="396.09" y="0.00" font-size="40.00">8</tspan></text></g>
<g transform="translate(0,231.25) scale(1,1.0300)"><text style="font-family:'Liberation Sans',Arial,Helvetica,sans-serif" fill="#000"><tspan x="396.11" y="0.00" font-size="40.00">6</tspan></text></g>
<g transform="translate(0,327.80) scale(1,1.0300)"><text style="font-family:'Liberation Sans',Arial,Helvetica,sans-serif" fill="#000"><tspan x="395.53" y="0.00" font-size="40.00">4</tspan></text></g>
<g transform="translate(0,424.35) scale(1,1.0300)"><text style="font-family:'Liberation Sans',Arial,Helvetica,sans-serif" fill="#000"><tspan x="396.37" y="0.00" font-size="40.00">2</tspan></text></g>
<g transform="translate(0,520.90) scale(1,1.0300)"><text style="font-family:'Liberation Sans',Arial,Helvetica,sans-serif" fill="#000"><tspan x="395.92" y="0.00" font-size="40.00">0</tspan></text></g>
<g transform="translate(0,617.45) scale(1,1.0300)"><text style="font-family:'Liberation Sans',Arial,Helvetica,sans-serif" fill="#000"><tspan x="383.05" y="0.00" font-size="40.00">-</tspan><tspan x="396.37" y="0.00" font-size="40.00">2</tspan></text></g>
<g transform="translate(0,570) scale(1,1.0300)"><text style="font-family:'Liberation Sans',Arial,Helvetica,sans-serif" fill="#000"><tspan x="512.25" y="0.00" font-size="40.00">2</tspan><tspan x="534.50" y="0.00" font-size="40.00">5</tspan></text></g>
<g transform="translate(0,570) scale(1,1.0300)"><text style="font-family:'Liberation Sans',Arial,Helvetica,sans-serif" fill="#000"><tspan x="602.75" y="0.00" font-size="40.00">5</tspan><tspan x="625.00" y="0.00" font-size="40.00">0</tspan></text></g>
<g transform="translate(0,570) scale(1,1.0300)"><text style="font-family:'Liberation Sans',Arial,Helvetica,sans-serif" fill="#000"><tspan x="693.25" y="0.00" font-size="40.00">7</tspan><tspan x="715.50" y="0.00" font-size="40.00">5</tspan></text></g>
<g transform="translate(0,570) scale(1,1.0300)"><text style="font-family:'Liberation Sans',Arial,Helvetica,sans-serif" fill="#000"><tspan x="772.63" y="0.00" font-size="40.00">1</tspan><tspan x="794.88" y="0.00" font-size="40.00">0</tspan><tspan x="817.12" y="0.00" font-size="40.00">0</tspan></text><g fill="#fff"><rect x="774.17" y="-3.69" width="8.52" height="5.69"/><rect x="786.22" y="-3.69" width="8.19" height="5.69"/></g></g>
<g transform="translate(0,570) scale(1,1.0300)"><text style="font-family:'Liberation Sans',Arial,Helvetica,sans-serif" fill="#000"><tspan x="863.13" y="0.00" font-size="40.00">1</tspan><tspan x="885.38" y="0.00" font-size="40.00">2</tspan><tspan x="907.62" y="0.00" font-size="40.00">5</tspan></text><g fill="#fff"><rect x="864.67" y="-3.69" width="8.52" height="5.69"/><rect x="876.72" y="-3.69" width="8.19" height="5.69"/></g></g>
<g transform="translate(0,570) scale(1,1.0300)"><text style="font-family:'Liberation Sans',Arial,Helvetica,sans-serif" fill="#000"><tspan x="953.63" y="0.00" font-size="40.00">1</tspan><tspan x="975.88" y="0.00" font-size="40.00">5</tspan><tspan x="998.12" y="0.00" font-size="40.00">0</tspan></text><g fill="#fff"><rect x="955.17" y="-3.69" width="8.52" height="5.69"/><rect x="967.22" y="-3.69" width="8.19" height="5.69"/></g></g>
<g transform="translate(0,570) scale(1,1.0300)"><text style="font-family:'Liberation Sans',Arial,Helvetica,sans-serif" fill="#000"><tspan x="1044.13" y="0.00" font-size="40.00">1</tspan><tspan x="1066.38" y="0.00" font-size="40.00">7</tspan><tspan x="1088.62" y="0.00" font-size="40.00">5</tspan></text><g fill="#fff"><rect x="1045.67" y="-3.69" width="8.52" height="5.69"/><rect x="1057.72" y="-3.69" width="8.19" height="5.69"/></g></g>
<g transform="translate(0,570) scale(1,1.0300)"><text style="font-family:'Liberation Sans',Arial,Helvetica,sans-serif" fill="#000"><tspan x="1134.63" y="0.00" font-size="40.00">2</tspan><tspan x="1156.88" y="0.00" font-size="40.00">0</tspan><tspan x="1179.12" y="0.00" font-size="40.00">0</tspan></text></g>
<g transform="translate(0,1586.5)"><text style="font-family:'Liberation Sans',Arial,Helvetica,sans-serif" fill="#000"><tspan x="835.52" y="0.00" font-size="103.50" textLength="66.55" lengthAdjust="spacingAndGlyphs">P</tspan><tspan x="895.61" y="0.00" font-size="103.50" textLength="64.58" lengthAdjust="spacingAndGlyphs">A</tspan><tspan x="953.60" y="0.00" font-size="103.50" textLength="73.95" lengthAdjust="spacingAndGlyphs">R</tspan><tspan x="1027.55" y="0.00" font-size="99.00"> </tspan><tspan x="1055.52" y="0.00" font-size="99.80" textLength="28.89" lengthAdjust="spacingAndGlyphs">(</tspan><tspan x="1087.19" y="0.00" font-size="100.00" textLength="55.69" lengthAdjust="spacingAndGlyphs">μ</tspan><tspan x="1140.58" y="0.00" font-size="97.80" textLength="83.10" lengthAdjust="spacingAndGlyphs">m</tspan><tspan x="1217.40" y="0.00" font-size="97.80" textLength="55.60" lengthAdjust="spacingAndGlyphs">o</tspan><tspan x="1270.43" y="0.00" font-size="97.80" textLength="21.99" lengthAdjust="spacingAndGlyphs">l</tspan><tspan x="1292.42" y="0.00" font-size="99.00"> </tspan><tspan x="1321.18" y="0.00" font-size="97.80" textLength="83.10" lengthAdjust="spacingAndGlyphs">m</tspan><tspan x="1397.24" y="-46.60" font-size="77.00" textLength="27.42" lengthAdjust="spacingAndGlyphs">-</tspan><tspan x="1420.25" y="-47.60" font-size="76.50" textLength="42.61" lengthAdjust="spacingAndGlyphs">2</tspan><tspan x="1462.85" y="0.00" font-size="99.00"> </tspan><tspan x="1488.37" y="0.00" font-size="97.80" textLength="49.08" lengthAdjust="spacingAndGlyphs">s</tspan><tspan x="1533.12" y="-46.60" font-size="77.00" textLength="27.55" lengthAdjust="spacingAndGlyphs">-</tspan><tspan x="1557.58" y="-47.60" font-size="76.50" textLength="46.35" lengthAdjust="spacingAndGlyphs">1</tspan><tspan x="1605.39" y="0.00" font-size="99.80" textLength="29.26" lengthAdjust="spacingAndGlyphs">)</tspan></text><g fill="#fff"><rect x="1562.42" y="-54.01" width="16.12" height="8.41"/><rect x="1585.90" y="-54.01" width="15.43" height="8.41"/></g></g>
<g transform="translate(131.60,1300.00) rotate(-90)"><text style="font-family:'Liberation Sans',Arial,Helvetica,sans-serif" fill="#000"><tspan x="80.63" y="0.00" font-size="102.30" textLength="62.61" lengthAdjust="spacingAndGlyphs" font-style="italic">A</tspan><tspan x="143.24" y="0.00" font-size="99.00"> </tspan><tspan x="169.57" y="0.00" font-size="99.80" textLength="29.14" lengthAdjust="spacingAndGlyphs">(</tspan><tspan x="201.66" y="0.00" font-size="100.00" textLength="55.03" lengthAdjust="spacingAndGlyphs">μ</tspan><tspan x="257.02" y="0.00" font-size="97.80" textLength="82.51" lengthAdjust="spacingAndGlyphs">m</tspan><tspan x="334.59" y="0.00" font-size="97.80" textLength="55.71" lengthAdjust="spacingAndGlyphs">o</tspan><tspan x="389.68" y="0.00" font-size="97.80" textLength="21.49" lengthAdjust="spacingAndGlyphs">l</tspan><tspan x="411.17" y="0.00" font-size="99.00"> </tspan><tspan x="435.95" y="0.00" font-size="102.10" textLength="70.36" lengthAdjust="spacingAndGlyphs">C</tspan><tspan x="504.89" y="0.00" font-size="102.10" textLength="75.66" lengthAdjust="spacingAndGlyphs">O</tspan><tspan x="579.97" y="21.00" font-size="76.50" textLength="42.36" lengthAdjust="spacingAndGlyphs">2</tspan><tspan x="622.33" y="0.00" font-size="99.00"> </tspan><tspan x="652.29" y="0.00" font-size="97.80" textLength="84.17" lengthAdjust="spacingAndGlyphs">m</tspan><tspan x="729.07" y="0.00" font-size="97.80" textLength="56.07" lengthAdjust="spacingAndGlyphs">o</tspan><tspan x="780.11" y="0.00" font-size="97.80">l</tspan><tspan x="801.85" y="0.00" font-size="99.00"> </tspan><tspan x="829.35" y="0.00" font-size="99.00"> </tspan><tspan x="859.66" y="0.00" font-size="97.80" textLength="83.34" lengthAdjust="spacingAndGlyphs">m</tspan><tspan x="937.69" y="-45.10" font-size="77.00" textLength="24.82" lengthAdjust="spacingAndGlyphs">-</tspan><tspan x="960.58" y="-45.40" font-size="76.50" textLength="41.14" lengthAdjust="spacingAndGlyphs">2</tspan><tspan x="1001.72" y="0.00" font-size="99.00"> </tspan><tspan x="1032.37" y="0.00" font-size="97.80" textLength="45.52" lengthAdjust="spacingAndGlyphs">s</tspan><tspan x="1078.60" y="-43.80" font-size="77.00" textLength="27.01" lengthAdjust="spacingAndGlyphs">-</tspan><tspan x="1103.56" y="-45.10" font-size="76.50" textLength="43.61" lengthAdjust="spacingAndGlyphs">1</tspan><tspan x="1151.00" y="0.00" font-size="99.80" textLength="28.64" lengthAdjust="spacingAndGlyphs">)</tspan></text><g fill="#fff"><rect x="1108.02" y="-51.51" width="15.26" height="8.41"/><rect x="1130.20" y="-51.51" width="14.61" height="8.41"/></g></g>
<g transform="translate(0,507)"><text style="font-family:'Liberation Sans',Arial,Helvetica,sans-serif" fill="#0000FF"><tspan x="1802.97" y="0.00" font-size="102.00" textLength="55.31" lengthAdjust="spacingAndGlyphs" font-weight="bold">0</tspan><tspan x="1858.28" y="0.00" font-size="99.00" font-weight="bold"> </tspan><tspan x="1881.16" y="0.00" font-size="98.50" textLength="86.90" lengthAdjust="spacingAndGlyphs" font-weight="bold">m</tspan><tspan x="1964.29" y="0.00" font-size="102.90" textLength="82.32" lengthAdjust="spacingAndGlyphs" font-weight="bold">M</tspan></text></g>
<g transform="translate(0,853)"><text style="font-family:'Liberation Sans',Arial,Helvetica,sans-serif" fill="#009A61"><tspan x="1728.00" y="0.00" font-size="102.00" textLength="54.85" lengthAdjust="spacingAndGlyphs" font-weight="bold">0</tspan><tspan x="1781.17" y="0.00" font-size="99.00" textLength="27.56" lengthAdjust="spacingAndGlyphs" font-weight="bold">.</tspan><tspan x="1807.93" y="0.00" font-size="102.00" textLength="53.65" lengthAdjust="spacingAndGlyphs" font-weight="bold">5</tspan><tspan x="1861.58" y="0.00" font-size="99.00" font-weight="bold"> </tspan><tspan x="1886.57" y="0.00" font-size="98.50" textLength="86.67" lengthAdjust="spacingAndGlyphs" font-weight="bold">m</tspan><tspan x="1971.40" y="0.00" font-size="102.90" textLength="82.20" lengthAdjust="spacingAndGlyphs" font-weight="bold">M</tspan></text></g>
<g transform="translate(0,1152.2)"><text style="font-family:'Liberation Sans',Arial,Helvetica,sans-serif" fill="#DA5F00"><tspan x="1730.69" y="0.00" font-size="103.60" textLength="57.79" lengthAdjust="spacingAndGlyphs" font-weight="bold">1</tspan><tspan x="1783.91" y="0.00" font-size="99.00" textLength="26.58" lengthAdjust="spacingAndGlyphs" font-weight="bold">.</tspan><tspan x="1810.25" y="0.00" font-size="102.00" textLength="54.14" lengthAdjust="spacingAndGlyphs" font-weight="bold">0</tspan><tspan x="1864.39" y="0.00" font-size="99.00" font-weight="bold"> </tspan><tspan x="1888.72" y="0.00" font-size="98.50" textLength="87.37" lengthAdjust="spacingAndGlyphs" font-weight="bold">m</tspan><tspan x="1973.75" y="0.00" font-size="102.90" textLength="82.80" lengthAdjust="spacingAndGlyphs" font-weight="bold">M</tspan></text><g fill="#fff"><rect x="1735.74" y="-11.27" width="19.21" height="13.27"/><rect x="1769.20" y="-11.27" width="17.89" height="13.27"/></g></g>
</svg>
</body></html>
